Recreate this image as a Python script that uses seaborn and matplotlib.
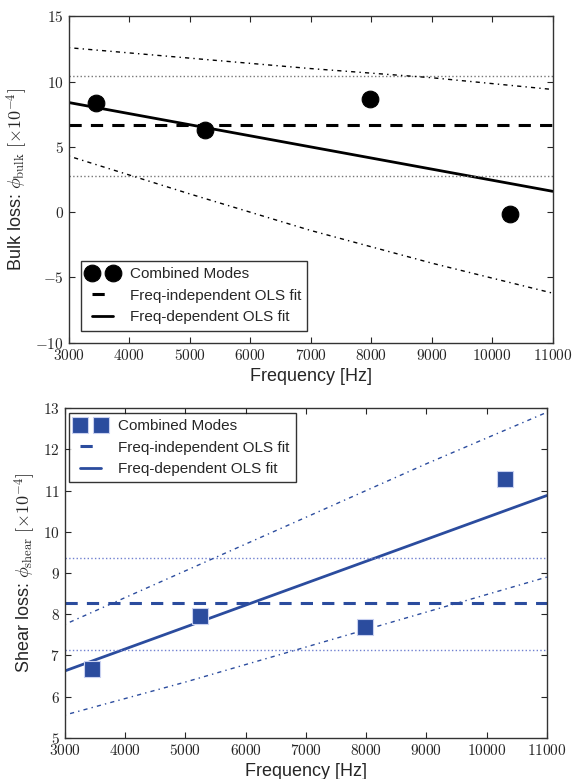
import numpy as np
import pandas as pd
from matplotlib import pyplot as plt
import seaborn as sns

# measured points
freq = [3450, 5250, 7980, 10300]
bulk_loss = [8.4, 6.3, 8.7, -0.1]
shear_loss = [6.68, 7.95, 7.68, 11.28]

# fit lines
fit_x = [3000, 11000]
bulk_fit = [8.4, 1.6]
shear_fit = [6.62, 10.88]
bulk_const = 6.65
bulk_const_band = [2.8, 10.4]
shear_const = 8.27
shear_const_band = [7.12, 9.37]

# prediction bands of the frequency-dependent fit
band_x = [3000, 5000, 7000, 9000, 11000]
bulk_band_hi = [12.6, 11.8, 11.0, 10.3, 9.4]
bulk_band_lo = [4.3, 1.4, -1.4, -3.9, -6.2]
shear_band_hi = [7.75, 9.05, 10.35, 11.65, 12.9]
shear_band_lo = [5.55, 6.35, 7.2, 8.05, 8.9]

sns.set_style("ticks")
plt.rcParams['font.family'] = ['Liberation Sans', 'DejaVu Sans']
plt.rcParams['mathtext.fontset'] = 'cm'
plt.rcParams['xtick.direction'] = 'in'
plt.rcParams['ytick.direction'] = 'in'
plt.rcParams['xtick.top'] = True
plt.rcParams['ytick.right'] = True

blue = '#2b4c9e'
light = '#7080d0'

fig = plt.figure(figsize=(5.83, 7.79), dpi=100)
ax1 = fig.add_axes([0.118, 0.560, 0.830, 0.419])
ax2 = fig.add_axes([0.111, 0.053, 0.827, 0.423])


def draw(ax, y, fit, const, const_band, hi, lo, color, dotcolor, marker, ms):
    pts = pd.DataFrame({'f': freq, 'y': y})
    ax.plot(freq, y, linestyle='none', marker=marker, ms=ms, color=color,
            mec='#c8d0f0' if marker == 's' else color, mew=0.8,
            label='Combined Modes', zorder=5)
    ax.plot(fit_x, [const, const], color=color, ls='--', lw=2.2,
            dashes=(4, 3), label='Freq-independent OLS fit')
    sns.lineplot(x=fit_x, y=fit, ax=ax, color=color, lw=2,
                 label='Freq-dependent OLS fit')
    for b in const_band:
        ax.plot(fit_x, [b, b], color=dotcolor, ls=':', lw=1)
    ax.plot(band_x, hi, color=color, ls='-.', lw=1, dashes=(1, 3, 3, 3))
    ax.plot(band_x, lo, color=color, ls='-.', lw=1, dashes=(1, 3, 3, 3))
    ax.set_xlim(3000, 11000)
    ax.set_xlabel('Frequency [Hz]', fontsize=13)
    ax.xaxis.set_major_formatter(plt.FuncFormatter(lambda v, p: '$%d$' % v))
    ax.yaxis.set_major_formatter(plt.FuncFormatter(lambda v, p: '$%d$' % v))
    ax.tick_params(labelsize=11, length=4)
    for s in ax.spines.values():
        s.set_linewidth(1)
        s.set_color('#333333')


draw(ax1, bulk_loss, bulk_fit, bulk_const, bulk_const_band,
     bulk_band_hi, bulk_band_lo, 'black', '#777777', 'o', 12)
ax1.set_ylim(-10, 15)
ax1.set_yticks(range(-10, 16, 5))
ax1.set_ylabel(r'Bulk loss: $\phi_{\rm bulk}$ $[\times 10^{-4}]$', fontsize=13)
ax1.legend(loc='lower left', numpoints=2, fontsize=11, frameon=True,
           fancybox=False, edgecolor='black', handlelength=2,
           borderaxespad=0.8).get_frame().set_linewidth(1)

draw(ax2, shear_loss, shear_fit, shear_const, shear_const_band,
     shear_band_hi, shear_band_lo, blue, light, 's', 11)
ax2.set_ylim(5, 13)
ax2.set_ylabel(r'Shear loss: $\phi_{\rm shear}$ $[\times 10^{-4}]$', fontsize=13)
ax2.legend(loc='upper left', numpoints=2, fontsize=11, frameon=True,
           fancybox=False, edgecolor='black', handlelength=2,
           borderaxespad=0.3).get_frame().set_linewidth(1)

fig.savefig('out.png', dpi=100)
